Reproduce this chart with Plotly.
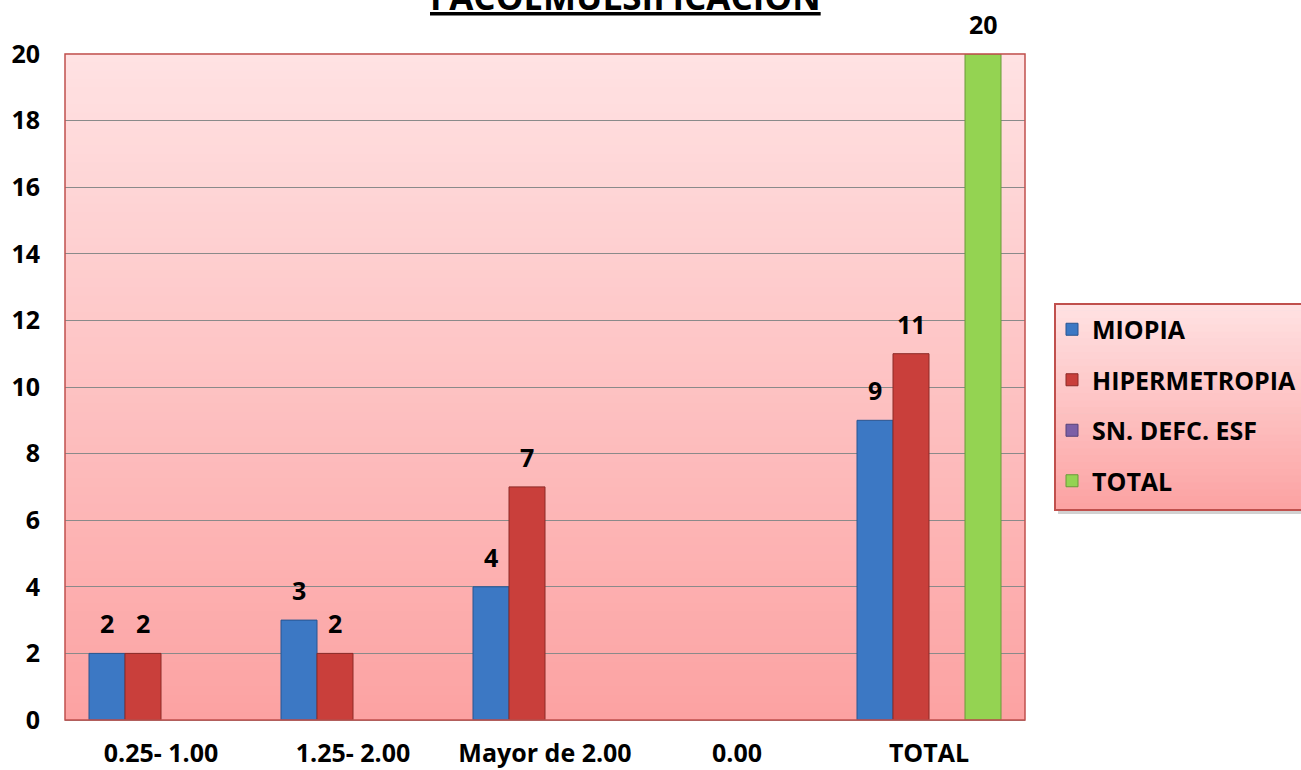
import plotly.graph_objects as go

# Categories and series values
categorias = ["0.25- 1.00", "1.25- 2.00", "Mayor de 2.00", "0.00", "TOTAL"]
miopia = [2, 3, 4, None, 9]
hipermetropia = [2, 2, 7, None, 11]
sn_defc_esf = [None, None, None, None, None]
total = [None, None, None, None, 20]
y_ticks = [0, 2, 4, 6, 8, 10, 12, 14, 16, 18, 20]

series = [
    ("MIOPIA", miopia, "#3c78c4", "#285490"),
    ("HIPERMETROPIA", hipermetropia, "#c93f3b", "#8c2a27"),
    ("SN. DEFC. ESF", sn_defc_esf, "#7c5fa6", "#574378"),
    ("TOTAL", total, "#94d352", "#6a9a38"),
]

FONT = "Open Sans"
FS = 25
W, H = 1301, 770
M_L, M_R, M_T, M_B = 65, 276, 54, 50
BARGAP = 0.25

fig = go.Figure()
for name, vals, color, edge in series:
    fig.add_trace(go.Bar(
        name=name, x=categorias, y=vals, legendgroup=name,
        marker=dict(color=color, line=dict(color=edge, width=1)),
    ))

plot_w = W - M_L - M_R
plot_h = H - M_T - M_B


def px_x(px):
    return (px - M_L) / plot_w


def px_y(py):
    return (M_T + plot_h - py) / plot_h


# value labels above each bar
bar_px = plot_w / len(categorias) * (1 - BARGAP) / len(series)
for k, (name, vals, color, edge) in enumerate(series):
    shift = (k - (len(series) - 1) / 2) * bar_px
    for cat, v in zip(categorias, vals):
        if v is None:
            continue
        fig.add_annotation(
            x=cat, y=v, xref="x", yref="y", text=f"<b>{v}</b>",
            showarrow=False, xshift=shift, yshift=30,
            font=dict(family=FONT, size=FS, color="#000"),
        )

# pink vertical gradient used for the plot area and the legend box
TOP = (255, 226, 227)
BOT = (252, 162, 162)


def gradient(x0, x1, y0, y1, n):
    for i in range(n):
        t = (i + 0.5) / n
        c = tuple(round(BOT[j] + (TOP[j] - BOT[j]) * t) for j in range(3))
        h = (y1 - y0) / n
        fig.add_shape(type="rect", xref="paper", yref="paper",
                      x0=x0, x1=x1, y0=y0 + i * h, y1=y0 + (i + 1) * h + h * 0.1,
                      fillcolor=f"rgb{c}", line=dict(width=0), layer="below")


gradient(0, 1, 0, 1, 80)

# plot area border
fig.add_shape(type="rect", xref="paper", yref="paper", x0=0, x1=1, y0=0, y1=1,
              line=dict(color="#c0504d", width=1.5), layer="above")

# legend box: soft shadow, gradient fill, red frame
lx0, lx1, ly_top, ly_bot = px_x(1055), px_x(1320), px_y(304), px_y(510)
fig.add_shape(type="rect", xref="paper", yref="paper",
              x0=px_x(1058), x1=px_x(1323), y0=px_y(514), y1=px_y(308),
              fillcolor="rgba(0,0,0,0.18)", line=dict(width=0), layer="below")
gradient(lx0, lx1, ly_bot, ly_top, 30)
fig.add_shape(type="rect", xref="paper", yref="paper",
              x0=lx0, x1=lx1, y0=ly_bot, y1=ly_top,
              line=dict(color="#c0504d", width=2), layer="above")

# title, underlined
fig.add_annotation(
    text="<b>FACOEMULSIFICACION</b>", xref="paper", yref="paper",
    x=px_x(625), y=px_y(22),
    xanchor="center", yanchor="bottom", showarrow=False,
    font=dict(family=FONT, size=35, color="#000", lineposition="under"),
)

fig.update_layout(
    width=W, height=H,
    margin=dict(l=M_L, r=M_R, t=M_T, b=M_B, autoexpand=False),
    paper_bgcolor="white", plot_bgcolor="rgba(0,0,0,0)",
    barmode="group", bargap=BARGAP, bargroupgap=0,
    font=dict(family=FONT, size=FS, color="#000"),
    showlegend=True,
    legend=dict(
        x=px_x(1052), y=px_y(405), xanchor="left", yanchor="middle",
        bgcolor="rgba(0,0,0,0)", borderwidth=0,
        font=dict(family=FONT, size=FS, color="#000", weight="bold"),
        tracegroupgap=15, itemwidth=30,
    ),
    xaxis=dict(
        type="category", showgrid=False, showline=False, ticks="",
        tickfont=dict(family=FONT, size=FS, weight="bold"),
        ticklabelstandoff=16,
    ),
    yaxis=dict(
        range=[0, 20], tickvals=y_ticks, showgrid=True,
        gridcolor="#8a8a8a", gridwidth=1, zeroline=True,
        zerolinecolor="#8a8a8a", zerolinewidth=1, ticks="",
        tickfont=dict(family=FONT, size=FS, weight="bold"),
        ticklabelstandoff=24,
    ),
)

fig.write_html("out.html")
